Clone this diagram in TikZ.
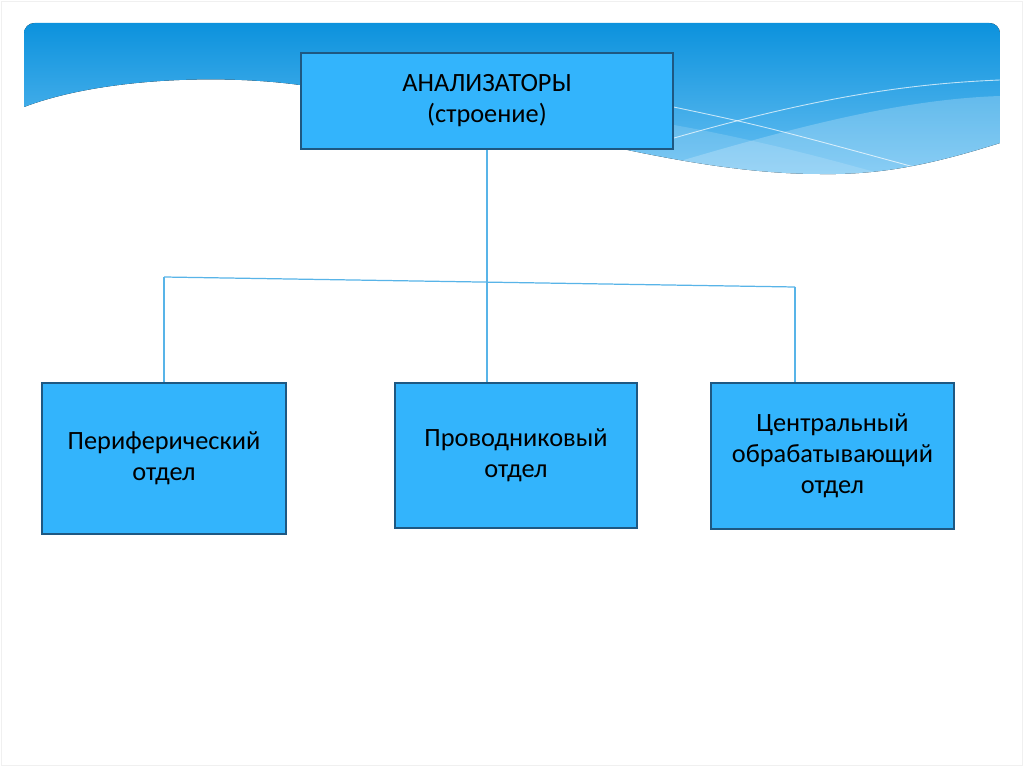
\documentclass[tikz,border=0pt]{standalone}
\usepackage{fontspec}
\setmainfont{Carlito}
\usetikzlibrary{calc}
\definecolor{shapka}{RGB}{12,146,221}
\definecolor{shapkalow}{RGB}{105,192,242}
\definecolor{blok}{RGB}{51,180,252}
\definecolor{ramka}{RGB}{30,88,130}
\definecolor{liniya}{RGB}{88,180,232}
\tikzset{
  blok/.style={draw=ramka, fill=blok, line width=1.1pt, align=center, inner sep=0pt,
    font=\fontsize{15}{17.6}\selectfont},
  svyaz/.style={draw=liniya, line width=0.7pt}
}

\begin{document}
\begin{tikzpicture}[x=0.02cm, y=-0.02cm]
			%%%%% START %%%%%
			
			\useasboundingbox (0, 0) rectangle (1024, 767);
			\fill[white] (0, 0) rectangle (1024, 767);
			\draw[black!6, line width=0.8pt] (1.5, 1.5) rectangle (1022.5, 765.5);
			
			% header band with the wave
			\begin{scope}
				\clip (24, 107) [rounded corners=6pt] -- (24, 23) -- (1000, 23) [sharp corners] -- (1000, 143)
					.. controls (930, 165) and (880, 175) .. (820, 174)
					.. controls (650, 174) and (450, 95) .. (300, 85)
					.. controls (220, 74) and (100, 78) .. (24, 107) -- cycle;
				\fill[top color=shapka, bottom color=shapkalow] (24, 23) rectangle (1000, 175);
				\fill[white, opacity=0.15] (560, 108) .. controls (700, 125) and (800, 150) .. (920, 185) -- (560, 185) -- cycle;
				\fill[white, opacity=0.22] (600, 185) .. controls (750, 140) and (880, 100) .. (1000, 96) -- (1000, 185) -- cycle;
				\draw[white, opacity=0.7, line width=0.5pt] (640, 100) .. controls (760, 125) .. (925, 170);
				\draw[white, opacity=0.7, line width=0.5pt] (640, 148) .. controls (800, 100) and (900, 84) .. (1000, 80);
			\end{scope}
			
			% boxes
			\node[blok, minimum width=7.44cm, minimum height=1.92cm] (analiz) at (487, 101) {АНАЛИЗАТОРЫ\\(строение)};
			\node[blok, minimum width=4.88cm, minimum height=3.02cm] (perif) at (164, 458.5) {Периферический\\отдел};
			\node[blok, minimum width=4.84cm, minimum height=2.90cm] (provod) at (516, 455.5) {Проводниковый\\отдел};
			\node[blok, minimum width=4.86cm, minimum height=2.92cm] (centr) at (832.5, 456) {Центральный\\обрабатывающий\\отдел};
			
			% connectors
			\coordinate (jl) at (164, 277);
			\coordinate (jr) at (795, 287);
			\draw[svyaz] (analiz.south) -- (analiz.south |- provod.north);
			\draw[svyaz] (jl) -- (jr);
			\draw[svyaz] (jl) -- (perif.north);
			\draw[svyaz] (jr) -- (jr |- centr.north);
			
			%%%%% END %%%%%
		\end{tikzpicture}
\end{document}
